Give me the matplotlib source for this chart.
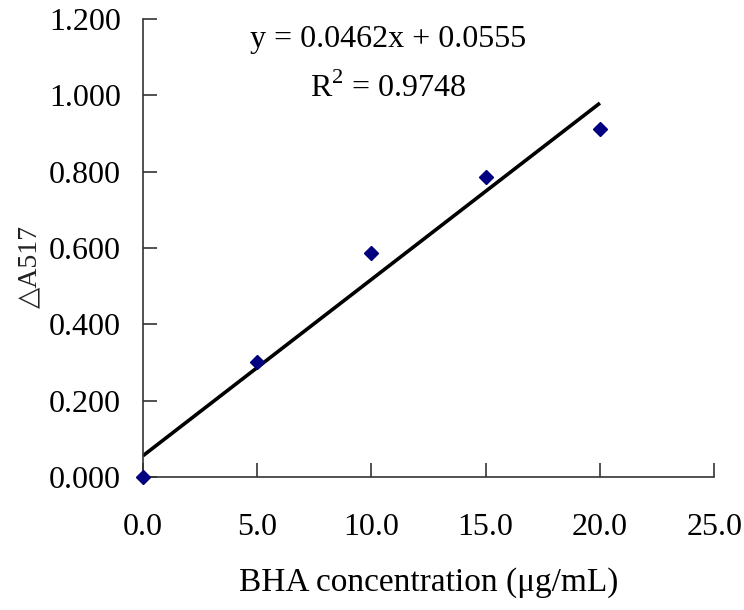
import matplotlib
matplotlib.use("Agg")
import matplotlib.pyplot as plt
import numpy as np

# BHA standard curve
conc = [0.0, 5.0, 10.0, 15.0, 20.0]
delta_a517 = [0.000, 0.302, 0.588, 0.787, 0.912]
slope = 0.0462
intercept = 0.0555
r2 = 0.9748

xticks = [0, 5, 10, 15, 20, 25]
yticks = [0.0, 0.2, 0.4, 0.6, 0.8, 1.0, 1.2]

plt.rcParams['font.family'] = ['Liberation Serif', 'DejaVu Serif']
plt.rcParams['mathtext.fontset'] = 'custom'
plt.rcParams['mathtext.rm'] = 'Liberation Serif'

fig = plt.figure(figsize=(7.44, 6.10), dpi=100)
ax = fig.add_axes([0.192, 0.218, 0.768, 0.751])

# trend line over the data range
fit_x = np.array([conc[0], conc[-1]])
ax.plot(fit_x, slope * fit_x + intercept, color='black', lw=2.6, solid_capstyle='butt', zorder=2)
ax.plot(conc, delta_a517, linestyle='none', marker='D', ms=7.5, color='#000080', clip_on=False, zorder=3)

ax.set_xlim(0, 25)
ax.set_ylim(0, 1.2)
ax.set_xticks(xticks)
ax.set_xticklabels(['{:.1f}'.format(v) for v in xticks])
ax.set_yticks(yticks)
ax.set_yticklabels(['{:.3f}'.format(v) for v in yticks])

for s in ['top', 'right']:
    ax.spines[s].set_visible(False)
for s in ['left', 'bottom']:
    ax.spines[s].set_color('#333333')
    ax.spines[s].set_linewidth(1.2)

ax.tick_params(axis='both', direction='in', length=10, width=1.2, color='#333333',
               labelsize=23, labelcolor='black')
ax.tick_params(axis='x', pad=26)
ax.tick_params(axis='y', pad=16)

ax.set_xlabel('BHA concentration (μg/mL)', fontsize=24, labelpad=18)
ax.set_ylabel('△A517', fontsize=20, color='#222222')
ax.yaxis.set_label_coords(-0.175, 0.46)

ax.text(0.43, 0.955, 'y = {:.4f}x + {:.4f}'.format(slope, intercept), transform=ax.transAxes,
        ha='center', va='center', fontsize=23)
ax.text(0.43, 0.848, 'R$^2$ = {:.4f}'.format(r2), transform=ax.transAxes,
        ha='center', va='center', fontsize=23)

fig.savefig('out.png', dpi=100)
